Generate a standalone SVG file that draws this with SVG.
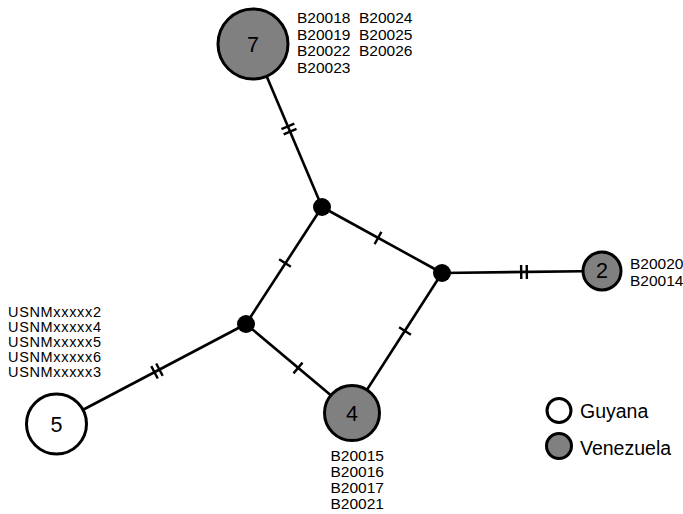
<svg xmlns="http://www.w3.org/2000/svg" width="683" height="514" viewBox="0 0 683 514">
<style>
.edge{stroke:#000;stroke-width:2.6;fill:none}
.tick{stroke:#000;stroke-width:2.4}
.hap{stroke:#000;stroke-width:3}
.ven{fill:#808080}
.guy{fill:#fff}
.dot{fill:#000}
.num{font-family:"Liberation Sans",Arial,sans-serif;font-size:21.5px;fill:#000;text-anchor:middle}
.lbl{font-family:"Liberation Sans",Arial,sans-serif;font-size:15.5px;fill:#000}
.usnm{font-family:"Liberation Sans",Arial,sans-serif;font-size:14.5px;fill:#000}
.leg{font-family:"Liberation Sans",Arial,sans-serif;font-size:19.5px;fill:#000}
</style>
<defs>
<g id="t1"><line class="tick" x1="0" y1="-7" x2="0" y2="7"/></g>
<g id="t2"><line class="tick" x1="-2.8" y1="-7" x2="-2.8" y2="7"/><line class="tick" x1="2.8" y1="-7" x2="2.8" y2="7"/></g>
</defs>
<g id="connectors">
<line class="edge" x1="253" y1="44" x2="322" y2="207"/>
<line class="edge" x1="322" y1="207" x2="442" y2="273"/>
<line class="edge" x1="322" y1="207" x2="246" y2="324"/>
<line class="edge" x1="246" y1="324" x2="56" y2="424"/>
<line class="edge" x1="246" y1="324" x2="352" y2="413"/>
<line class="edge" x1="442" y1="273" x2="352" y2="413"/>
<line class="edge" x1="442" y1="273" x2="602" y2="271"/>
<use href="#t2" transform="translate(289,129) rotate(67)"/>
<use href="#t1" transform="translate(378,238) rotate(28.8)"/>
<use href="#t1" transform="translate(285,263) rotate(-57)"/>
<use href="#t2" transform="translate(157,371) rotate(-27.8)"/>
<use href="#t1" transform="translate(298,368) rotate(40)"/>
<use href="#t1" transform="translate(405,331) rotate(-57.3)"/>
<use href="#t2" transform="translate(524,272) rotate(-0.7)"/>
</g>
<g id="node7">
<circle class="hap ven" cx="253" cy="44" r="35"/>
<text class="num" x="253" y="51.5">7</text>
<text class="lbl" x="297" y="23">B20018</text>
<text class="lbl" x="297" y="39.7">B20019</text>
<text class="lbl" x="297" y="56.3">B20022</text>
<text class="lbl" x="297" y="73">B20023</text>
<text class="lbl" x="359" y="23">B20024</text>
<text class="lbl" x="359" y="39.7">B20025</text>
<text class="lbl" x="359" y="56.3">B20026</text>
</g>
<g id="node5">
<circle class="hap guy" cx="56.5" cy="424" r="30"/>
<text class="num" x="56.5" y="431.5">5</text>
<text class="usnm" x="8" y="316.5" textLength="93">USNMxxxxx2</text>
<text class="usnm" x="8" y="331.5" textLength="93">USNMxxxxx4</text>
<text class="usnm" x="8" y="346.5" textLength="93">USNMxxxxx5</text>
<text class="usnm" x="8" y="361.5" textLength="93">USNMxxxxx6</text>
<text class="usnm" x="8" y="376.5" textLength="93">USNMxxxxx3</text>
</g>
<g id="node4">
<circle class="hap ven" cx="352" cy="413" r="27.5"/>
<text class="num" x="352" y="420.5">4</text>
<text class="lbl" x="330.5" y="460.7">B20015</text>
<text class="lbl" x="330.5" y="476.7">B20016</text>
<text class="lbl" x="330.5" y="492.7">B20017</text>
<text class="lbl" x="330.5" y="508.5">B20021</text>
</g>
<g id="node2">
<circle class="hap ven" cx="602" cy="271" r="19"/>
<text class="num" x="602" y="278">2</text>
<text class="lbl" x="630" y="269.3">B20020</text>
<text class="lbl" x="630" y="285.5">B20014</text>
</g>
<g id="median1"><circle class="dot" cx="322" cy="207" r="9"/></g>
<g id="median2"><circle class="dot" cx="442" cy="273" r="9"/></g>
<g id="median3"><circle class="dot" cx="246" cy="324" r="9"/></g>
<g id="legend">
<circle class="hap guy" cx="559" cy="410.5" r="12"/>
<text class="leg" x="580" y="418">Guyana</text>
<circle class="hap ven" cx="559" cy="446" r="12.5"/>
<text class="leg" x="580" y="455">Venezuela</text>
</g>
</svg>
